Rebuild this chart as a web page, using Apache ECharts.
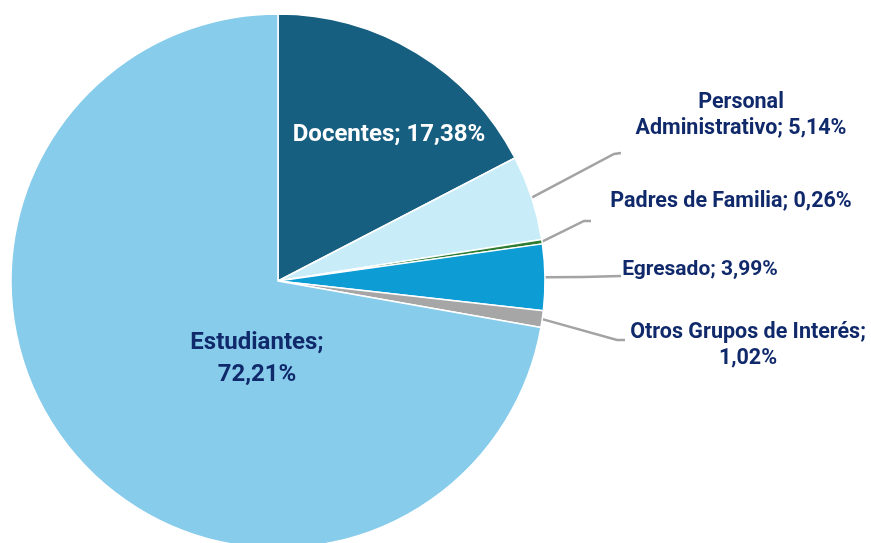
<!DOCTYPE html>
<html>
<head>
<meta charset="utf-8">
<script src="https://cdn.jsdelivr.net/npm/echarts@6/dist/echarts.min.js"></script>
<style>
  html, body { margin: 0; padding: 0; background: #fff; }
  #chart { width: 871px; height: 543px; }
</style>
</head>
<body>
<div id="chart"></div>
<script>
// grupos de interés, en el orden del gráfico (sentido horario desde arriba)
const categories = ['Docentes', 'Personal Administrativo', 'Padres de Familia', 'Egresado', 'Otros Grupos de Interés', 'Estudiantes'];
const values = [17.38, 5.14, 0.26, 3.99, 1.02, 72.21];
const labelTexts = ['Docentes; 17,38%', 'Personal\nAdministrativo; 5,14%', 'Padres de Familia; 0,26%', 'Egresado; 3,99%', 'Otros Grupos de Interés;\n1,02%', 'Estudiantes;\n72,21%'];
const colors = ['#175f80', '#c9ecf9', '#2e7d32', '#0e9cd5', '#a6a6a6', '#88cceb'];

// dónde va cada etiqueta (centro del texto) y el recorrido de su línea guía
const labelPos = [[389, 135], [741, 116], [731, 202], [700, 270], [748, 346], [257, 359]];
const guideEnds = [null, [[614, 154], [621, 153]], [[584, 221], [591, 221]], [[583, 277], [621, 276]], [[617, 340], [625, 340]], null];
const insideLabels = [0, 5];

const navy = '#10296b';

const chart = echarts.init(document.getElementById('chart'));

const data = categories.map((name, i) => {
  const inside = insideLabels.includes(i);
  return {
    name: name,
    value: values[i],
    itemStyle: { color: colors[i] },
    label: {
      position: inside ? 'inside' : 'outside',
      color: i === 0 ? '#ffffff' : navy,
      fontSize: inside ? 24 : (i === 3 ? 21 : 21.5),
      lineHeight: i === 5 ? 32 : 26
    },
    labelLine: { show: !inside }
  };
});

chart.setOption({
  animation: false,
  series: [{
    type: 'pie',
    center: [278, 281],
    radius: 267,
    startAngle: 90,
    clockwise: true,
    avoidLabelOverlap: false,
    itemStyle: { borderColor: '#ffffff', borderWidth: 1.5 },
    label: {
      fontFamily: 'Roboto',
      fontWeight: 'bold',
      align: 'center',
      formatter: p => labelTexts[p.dataIndex]
    },
    labelLine: {
      length: 20,
      length2: 10,
      lineStyle: { color: '#a3a3a3', width: 2.5 }
    },
    labelLayout: p => {
      const i = p.dataIndex;
      const out = {
        x: labelPos[i][0],
        y: labelPos[i][1],
        align: 'center',
        verticalAlign: 'middle'
      };
      if (guideEnds[i] && p.labelLinePoints) {
        out.labelLinePoints = [p.labelLinePoints[0]].concat(guideEnds[i]);
      }
      return out;
    },
    emphasis: { disabled: true },
    data: data
  }]
});
</script>
</body>
</html>
